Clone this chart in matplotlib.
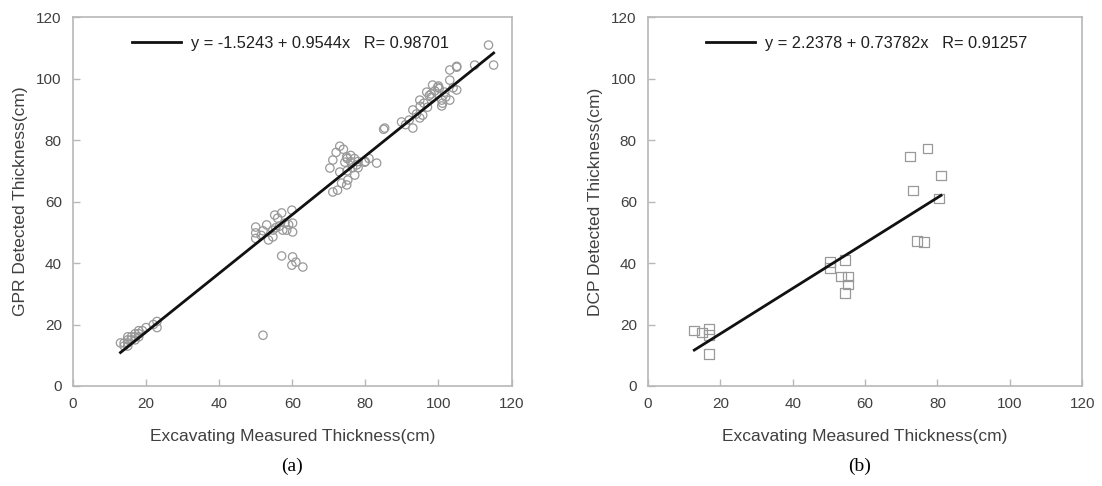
import numpy as np
import matplotlib.pyplot as plt

plt.rcParams['font.family'] = ['Liberation Sans', 'DejaVu Sans']

# (a) GPR vs excavating
gpr_x = [13, 14, 15, 15, 15, 15, 16, 16, 17, 17, 17, 18, 18, 18, 19, 20, 22, 23, 23, 14,
         50.0, 50.0, 50.0, 53.0, 54.7, 54.7, 57.1, 56.0, 58.0, 57.4, 59.9, 60.1, 60.1, 55.2,
         58.5, 52.0, 55.5, 53.5, 56.5, 51.5, 59.0, 57.1, 60.1, 61.0, 59.9, 62.9, 52.0,
         70.3, 71.1, 72.4, 74.9, 75.2, 71.1, 74.9, 77.1, 79.8, 83.1, 77.6, 74.4, 73.0,
         72.0, 73.0, 74.0, 75.0, 76.0, 76.0, 77.0, 78.0, 78.0, 80.0, 81.0, 85.0, 75.0,
         73.5, 76.5,
         85.3, 89.9, 93.0, 93.0, 94.9, 94.9, 95.7, 96.8, 97.0, 98.4, 99.8, 100.0, 100.2,
         98.1, 100.9, 101.1, 103.1, 103.1, 105.0, 103.1, 105.0, 105.0, 109.9, 115.1, 101.7,
         100.9, 113.7, 92.0, 94.0, 96.0, 97.5, 99.0, 102.0, 104.0, 91.0, 95.0, 98.0]
gpr_y = [14, 14, 16, 15, 14, 13, 15, 16, 16, 17, 15, 17, 18, 16, 18, 19, 20, 21, 19, 13,
         51.7, 49.8, 48.0, 52.4, 50.7, 48.5, 56.3, 54.6, 53.0, 50.7, 57.2, 53.0, 50.1, 55.6,
         50.7, 50.5, 51.5, 47.5, 52.0, 49.0, 52.5, 42.3, 42.0, 40.3, 39.3, 38.7, 16.5,
         70.9, 63.1, 63.7, 65.4, 67.0, 73.5, 74.5, 68.6, 72.8, 72.5, 71.9, 72.8, 69.6,
         76.0, 78.0, 77.0, 74.0, 73.0, 75.0, 74.0, 71.0, 73.0, 73.0, 74.0, 83.5, 70.0,
         66.0, 71.0,
         83.9, 85.9, 83.9, 89.8, 93.0, 87.2, 88.1, 95.6, 90.7, 97.9, 97.2, 97.6, 96.8,
         94.0, 93.0, 92.0, 93.0, 99.5, 96.3, 102.8, 103.7, 104.0, 104.4, 104.4, 95.6,
         91.1, 110.9, 86.5, 88.5, 92.0, 94.5, 96.0, 94.0, 97.0, 85.0, 91.0, 95.0]
gpr_fit = (-1.5243, 0.9544)
gpr_label = 'y = -1.5243 + 0.9544x   R= 0.98701'

# (b) DCP vs excavating
dcp_x = [12.8, 15.0, 16.8, 16.8, 16.8,
         50.3, 50.3, 54.4, 53.3, 55.2, 55.2, 54.4,
         72.5, 77.3, 81.0, 73.3, 80.4, 74.3, 76.3]
dcp_y = [18.0, 17.4, 18.6, 16.6, 10.5,
         40.3, 38.4, 41.0, 35.6, 35.6, 33.0, 30.2,
         74.6, 77.3, 68.5, 63.6, 61.0, 47.2, 46.9]
dcp_fit = (2.2378, 0.73782)
dcp_label = 'y = 2.2378 + 0.73782x   R= 0.91257'

ticks = [0, 20, 40, 60, 80, 100, 120]

fig = plt.figure(figsize=(11.02, 4.86), dpi=100)
ax1 = fig.add_axes([0.0662, 0.2058, 0.398, 0.759])
ax2 = fig.add_axes([0.588, 0.2058, 0.394, 0.759])

spine_col = '#b8b8b8'
text_col = '#404040'


def style(ax, ylabel):
    ax.set_xlim(0, 120)
    ax.set_ylim(0, 120)
    ax.set_xticks(ticks)
    ax.set_yticks(ticks)
    for s in ax.spines.values():
        s.set_color(spine_col)
        s.set_linewidth(1.2)
    ax.tick_params(direction='in', length=5, width=1, color=spine_col,
                   labelcolor=text_col, labelsize=11, pad=8)
    ax.set_xlabel('Excavating Measured Thickness(cm)', fontsize=12.5,
                  color=text_col, labelpad=13)
    ax.set_ylabel(ylabel, fontsize=12.5, color=text_col, labelpad=6)


def fit_line(ax, x, fit, label):
    xs = np.array([min(x), max(x)])
    ax.plot(xs, fit[0] + fit[1] * xs, color='#111111', lw=2, label=label)
    leg = ax.legend(loc='upper left', frameon=False, fontsize=11.8,
                    handlelength=3.0, handletextpad=0.6,
                    bbox_to_anchor=(0.1, 0.99))
    for t in leg.get_texts():
        t.set_color('#202020')


ax1.scatter(gpr_x, gpr_y, s=36, facecolors='none', edgecolors='#999999',
            linewidths=0.9, zorder=2)
fit_line(ax1, gpr_x, gpr_fit, gpr_label)
style(ax1, 'GPR Detected Thickness(cm)')

ax2.scatter(dcp_x, dcp_y, s=48, marker='s', facecolors='none',
            edgecolors='#999999', linewidths=0.9, zorder=2)
fit_line(ax2, dcp_x, dcp_fit, dcp_label)
style(ax2, 'DCP Detected Thickness(cm)')

fig.text(0.265, 0.03, '(a)', fontsize=14, family='Liberation Serif', ha='center')
fig.text(0.78, 0.03, '(b)', fontsize=14, family='Liberation Serif', ha='center')

fig.savefig('out.png', dpi=100)
